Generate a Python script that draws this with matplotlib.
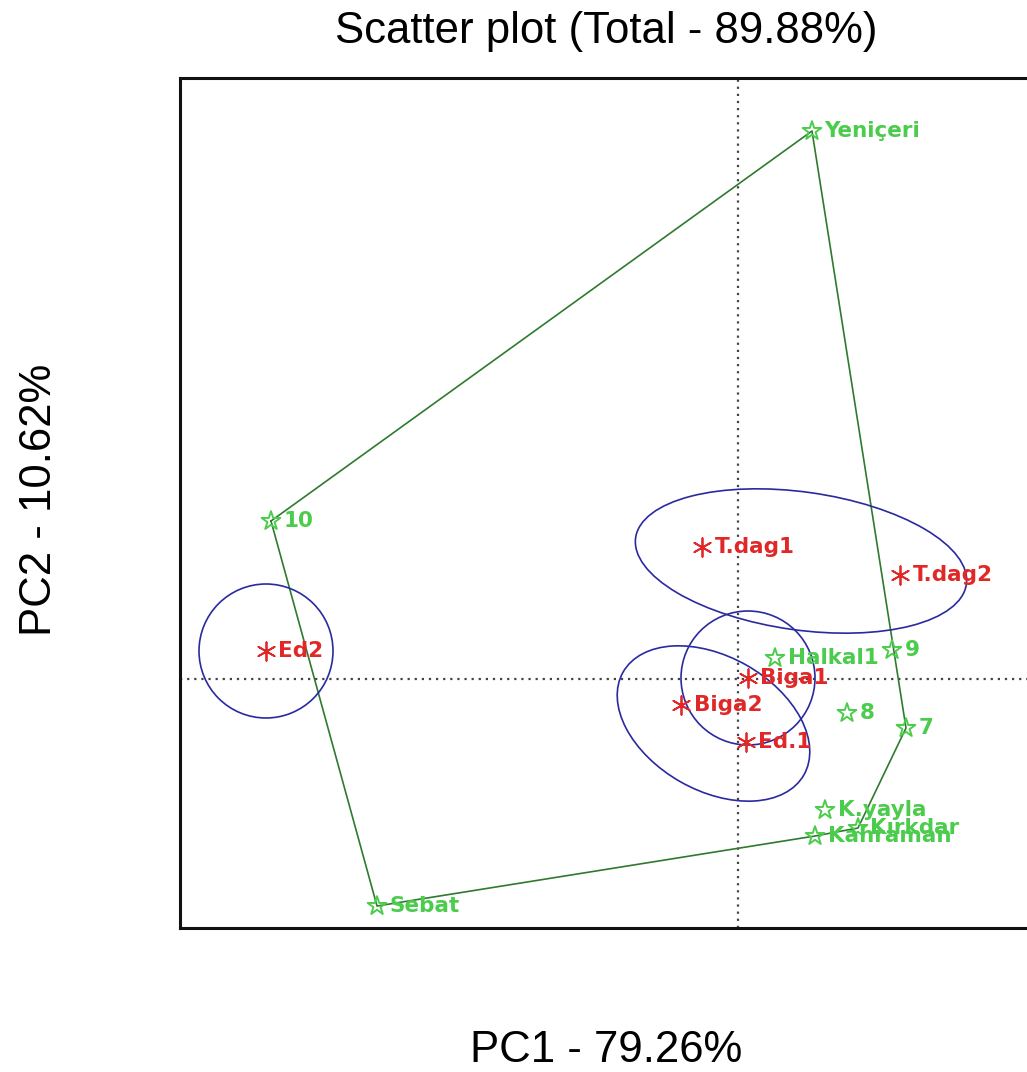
import numpy as np
import matplotlib
matplotlib.use("Agg")
import matplotlib.pyplot as plt
from matplotlib.patches import Ellipse

# PCA scores (PC1, PC2)
green_names = ["Yeniçeri", "10", "Sebat", "Kahraman", "Kırkdar", "K.yayla",
               "7", "8", "9", "Halkal1"]
green_pc1 = [0.74, -4.67, -3.61, 0.77, 1.20, 0.87, 1.68, 1.09, 1.54, 0.37]
green_pc2 = [5.48, 1.58, -2.27, -1.57, -1.49, -1.31, -0.49, -0.34, 0.29, 0.21]

red_names = ["T.dag1", "T.dag2", "Ed2", "Biga1", "Biga2", "Ed.1"]
red_pc1 = [-0.36, 1.62, -4.72, 0.10, -0.57, 0.08]
red_pc2 = [1.32, 1.04, 0.28, 0.01, -0.26, -0.63]

# groups of red points with ellipse semi-axes and angle
groups = [["Ed2"], ["T.dag1", "T.dag2"], ["Biga1"], ["Biga2", "Ed.1"]]
ell_a = [0.67, 1.67, 0.67, 1.04]
ell_b = [0.67, 0.69, 0.67, 0.67]
ell_angle = [0, -8, 0, -29.6]


def convex_hull(pts):
    pts = sorted(set(pts))
    def cross(o, a, b):
        return (a[0]-o[0])*(b[1]-o[1]) - (a[1]-o[1])*(b[0]-o[0])
    lower, upper = [], []
    for p in pts:
        while len(lower) >= 2 and cross(lower[-2], lower[-1], p) <= 0:
            lower.pop()
        lower.append(p)
    for p in reversed(pts):
        while len(upper) >= 2 and cross(upper[-2], upper[-1], p) <= 0:
            upper.pop()
        upper.append(p)
    return lower[:-1] + upper[:-1]


plt.rcParams['font.family'] = ['Liberation Sans', 'DejaVu Sans']

W, H = 1027, 1072
fig = plt.figure(figsize=(W/100, H/100), dpi=100)
ax = fig.add_axes([180/W, 1 - 928/H, (1040-180)/W, (928-78)/H])

green = "#4ccc4c"
red = "#e02828"
hull_col = "#2f7a2f"
ell_col = "#2a2aa0"

ax.axvline(0, color="#444444", ls=(0, (1, 2.2)), lw=1.6, zorder=1)
ax.axhline(0, color="#444444", ls=(0, (1, 2.2)), lw=1.6, zorder=1)

hull = convex_hull(list(zip(green_pc1, green_pc2)))
hull.append(hull[0])
hx, hy = zip(*hull)
ax.plot(hx, hy, color=hull_col, lw=1.2, zorder=2)

lookup = dict(zip(red_names, zip(red_pc1, red_pc2)))
for g, a, b, ang in zip(groups, ell_a, ell_b, ell_angle):
    cx = np.mean([lookup[n][0] for n in g])
    cy = np.mean([lookup[n][1] for n in g])
    ax.add_patch(Ellipse((cx, cy), 2*a, 2*b, angle=ang, fill=False,
                         ec=ell_col, lw=1.2, zorder=2))

ax.scatter(green_pc1, green_pc2, marker="*", s=200, facecolors="none",
           edgecolors=green, linewidths=1.4, zorder=3)
ax.scatter(red_pc1, red_pc2, marker=(6, 2, 0), s=180, color=red,
           linewidths=1.3, zorder=3)

for n, x, y in zip(green_names, green_pc1, green_pc2):
    ax.annotate(n, (x, y), xytext=(9, 0), textcoords="offset points",
                va="center", ha="left", color=green, fontsize=15.5,
                fontweight="bold", family="DejaVu Sans", zorder=4)
for n, x, y in zip(red_names, red_pc1, red_pc2):
    ax.annotate(n, (x, y), xytext=(9, 0), textcoords="offset points",
                va="center", ha="left", color=red, fontsize=15.5,
                fontweight="bold", family="DejaVu Sans", zorder=4)

ax.set_xlim(-5.58, 3.02)
ax.set_ylim(-2.49, 6.01)
ax.set_xticks([])
ax.set_yticks([])
for s in ax.spines.values():
    s.set_linewidth(2.2)
    s.set_color("#111111")

fig.text(606/W, 1 - 31/H, "Scatter plot (Total - 89.88%)", ha="center",
         va="center", fontsize=31.5)
fig.text(606/W, 1 - 1050/H, "PC1 - 79.26%", ha="center", va="center",
         fontsize=31.5)
fig.text(40/W, 1 - 500/H, "PC2 - 10.62%", ha="center", va="center",
         fontsize=31.5, rotation=90)

fig.savefig("out.png", dpi=100)
